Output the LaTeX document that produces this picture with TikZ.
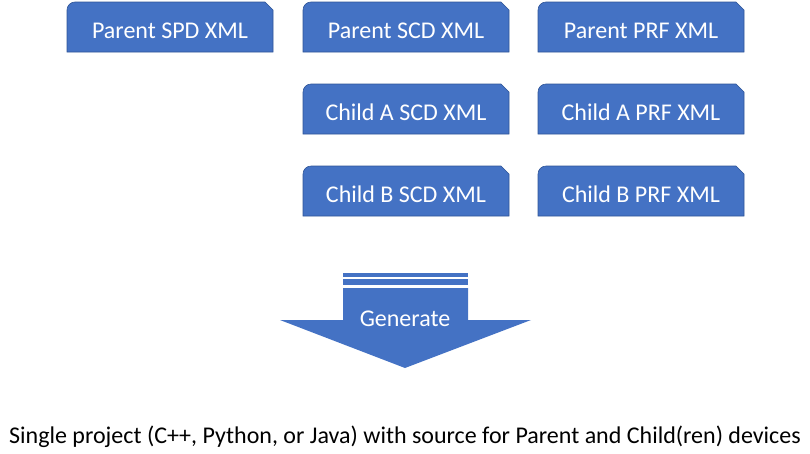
\documentclass[tikz,border=0pt]{standalone}
\usepackage{fontspec}
\setmainfont{Carlito}
\definecolor{boxfill}{HTML}{4472C4}
\definecolor{boxline}{HTML}{2F5597}
\begin{document}
\begin{tikzpicture}[x=1pt,y=-1pt,
  xmlbox/.style={fill=boxfill,draw=boxline,line width=0.6pt},
  boxtext/.style={text=white,font=\fontsize{24}{28}\selectfont,inner sep=0pt},
  bottomtext/.style={text=black,font=\fontsize{24}{28}\selectfont,inner sep=0pt}]
\useasboundingbox (0,0) rectangle (810,453);
% box: left x, top y, width 206, height 50
\newcommand{\xmlbox}[4]{%
  \draw[xmlbox] (#1,#2+50) -- (#1,#2+8) arc[start angle=180,end angle=270,radius=8] -- (#1+198,#2) -- (#1+206,#2+8) -- (#1+206,#2+50) -- cycle;
  \node[boxtext] (#3) at (#1+103,#2+28.5) {#4};}
\xmlbox{67}{2}{pspd}{Parent SPD XML}
\xmlbox{303}{2}{pscd}{Parent SCD XML}
\xmlbox{538}{2}{pprf}{Parent PRF XML}
\xmlbox{303}{84}{ascd}{Child A SCD XML}
\xmlbox{538}{84}{aprf}{Child A PRF XML}
\xmlbox{303}{166}{bscd}{Child B SCD XML}
\xmlbox{538}{166}{bprf}{Child B PRF XML}
% arrow
\fill[boxfill] (343,273) rectangle (468,277);
\fill[boxfill] (343,279) rectangle (468,285);
\fill[boxfill] (343,288) -- (468,288) -- (468,320) -- (531,320) -- (405,368) -- (280,320) -- (343,320) -- cycle;
\node[boxtext] (gen) at (405,318.5) {Generate};
\node[bottomtext] (out) at (405,437) {Single project (C++, Python, or Java) with source for Parent and Child(ren) devices};
\end{tikzpicture}
\end{document}
